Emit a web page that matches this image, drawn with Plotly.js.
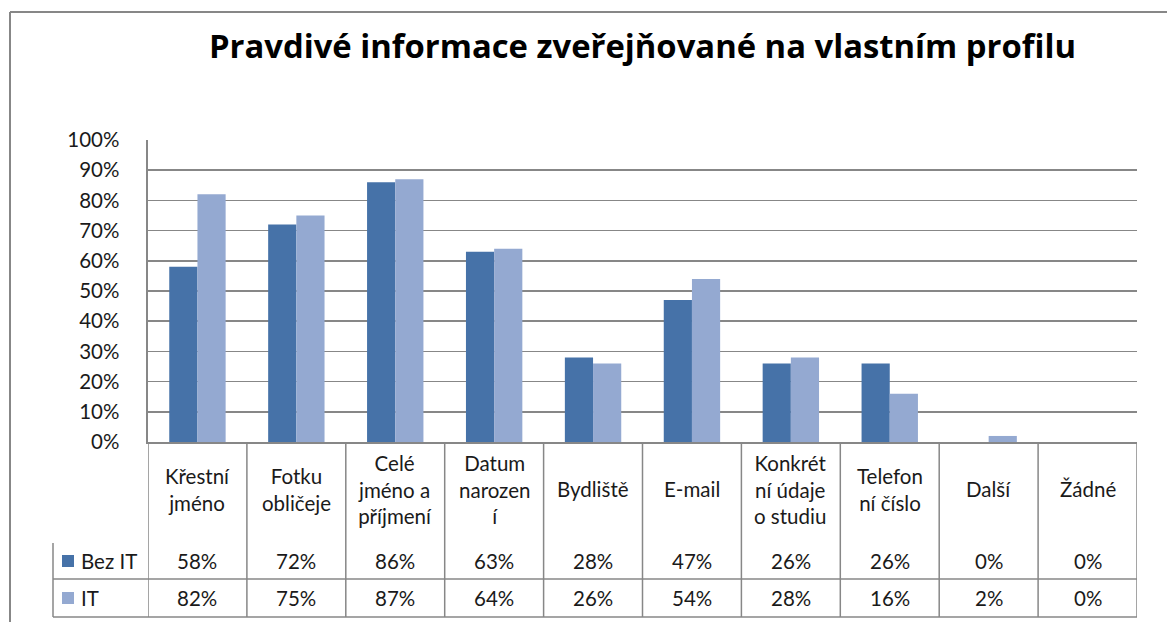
<!DOCTYPE html>
<html>
<head>
<meta charset="utf-8">
<script src="https://cdn.plot.ly/plotly-3.0.1.min.js"></script>
<style>
  html, body { margin: 0; padding: 0; background: #fff; }
  #chart { width: 1167px; height: 622px; }
</style>
</head>
<body>
<div id="chart"></div>
<script>
// data
const categories = ['Křestní jméno', 'Fotku obličeje', 'Celé jméno a příjmení', 'Datum narození',
    'Bydliště', 'E-mail', 'Konkrétní údaje o studiu', 'Telefonní číslo', 'Další', 'Žádné'];
// labels as Excel wrapped them in the data table
const headerLabels = ['Křestní<br>jméno', 'Fotku<br>obličeje', 'Celé<br>jméno a<br>příjmení', 'Datum<br>narozen<br>í',
    'Bydliště', 'E-mail', 'Konkrét<br>ní údaje<br>o studiu', 'Telefon<br>ní číslo', 'Další', 'Žádné'];
const seriesNames = ['Bez IT', 'IT'];
const bezIT = [0.58, 0.72, 0.86, 0.63, 0.28, 0.47, 0.26, 0.26, 0, 0];
const it = [0.82, 0.75, 0.87, 0.64, 0.26, 0.54, 0.28, 0.16, 0.02, 0];
const colors = ['#4672A8', '#94A9D1'];

const W = 1167, H = 622;
const M = { l: 148, r: 30, t: 140, b: 180 };
const plotH = H - M.t - M.b;
const plotW = W - M.l - M.r;
// pixel -> paper helpers (layout only)
const py = Y => (H - M.b - Y) / plotH;
const px = X => (X - M.l) / plotW;

const FONT = 'Lato, "Open Sans", sans-serif';
const TSIZE = 20.5;
const GRID = '#878787';
const TXT = '#1a1a1a';

const traces = [bezIT, it].map((vals, i) => ({
    type: 'bar', name: seriesNames[i], x: categories, y: vals,
    marker: { color: colors[i] }, hoverinfo: 'x+y'
}));

const shapes = [];
const annotations = [];

// outer chart frame (top and left visible)
shapes.push({ type: 'line', xref: 'paper', yref: 'paper', x0: px(10), x1: px(1175), y0: py(12), y1: py(12), line: { color: GRID, width: 2 } });
shapes.push({ type: 'line', xref: 'paper', yref: 'paper', x0: px(10), x1: px(10), y0: py(12), y1: py(630), line: { color: GRID, width: 2 } });

// data table grid
const rowTop = 543, rowMid = 579, rowBot = 617;
[rowMid, rowBot].forEach(Y => shapes.push({
    type: 'line', xref: 'paper', yref: 'paper', x0: px(53), x1: 1, y0: py(Y), y1: py(Y), line: { color: GRID, width: 1.5 }
}));
shapes.push({ type: 'line', xref: 'paper', yref: 'paper', x0: px(53), x1: px(53), y0: py(rowTop), y1: py(rowBot), line: { color: GRID, width: 1.5 } });
for (let k = 0; k <= categories.length; k++) {
    shapes.push({ type: 'line', xref: 'x', yref: 'paper', x0: k - 0.5, x1: k - 0.5, y0: 0, y1: py(rowBot), line: { color: GRID, width: 1.5 } });
}

// header labels
categories.forEach((c, i) => {
    annotations.push({ xref: 'x', yref: 'paper', x: c, y: py(489), text: headerLabels[i], showarrow: false,
        align: 'center', yanchor: 'middle', font: { family: FONT, size: TSIZE, color: TXT } });
});

// value rows + legend keys
const rowCenters = [561, 598];
[bezIT, it].forEach((vals, s) => {
    vals.forEach((v, i) => {
        annotations.push({ xref: 'x', yref: 'paper', x: categories[i], y: py(rowCenters[s]), text: Math.round(v * 100) + '%',
            showarrow: false, yanchor: 'middle', font: { family: FONT, size: TSIZE, color: TXT } });
    });
    shapes.push({ type: 'rect', xref: 'paper', yref: 'paper', x0: px(62), x1: px(74), y0: py(rowCenters[s] - 6), y1: py(rowCenters[s] + 6),
        fillcolor: colors[s], line: { width: 0 } });
    annotations.push({ xref: 'paper', yref: 'paper', x: px(79), y: py(rowCenters[s]), xanchor: 'left', yanchor: 'middle',
        text: seriesNames[s], showarrow: false, font: { family: FONT, size: TSIZE, color: TXT } });
});

const layout = {
    width: W, height: H,
    margin: M,
    paper_bgcolor: '#fff', plot_bgcolor: '#fff',
    title: {
        text: 'Pravdivé informace zveřejňované na vlastním profilu',
        font: { family: '"Open Sans", Lato, sans-serif', size: 32.8, color: '#000', weight: 'bold' },
        xref: 'paper', x: 0.5, xanchor: 'center',
        yref: 'container', y: 1 - 47 / H, yanchor: 'middle'
    },
    showlegend: false,
    barmode: 'group', bargap: 0.43, bargroupgap: 0,
    xaxis: {
        type: 'category', range: [-0.5, categories.length - 0.5],
        showticklabels: false, ticks: '', showgrid: false,
        showline: true, linecolor: GRID, linewidth: 1.5, zeroline: false
    },
    yaxis: {
        range: [0, 1], dtick: 0.1, tickformat: '.0%',
        showgrid: true, gridcolor: GRID, gridwidth: 1.5,
        showline: true, linecolor: GRID, linewidth: 2.5, zeroline: false,
        ticks: '', ticklabelstandoff: 22,
        tickfont: { family: FONT, size: TSIZE, color: TXT }
    },
    shapes: shapes,
    annotations: annotations
};

Plotly.newPlot('chart', traces, layout, { displayModeBar: false, staticPlot: true });
</script>
</body>
</html>
